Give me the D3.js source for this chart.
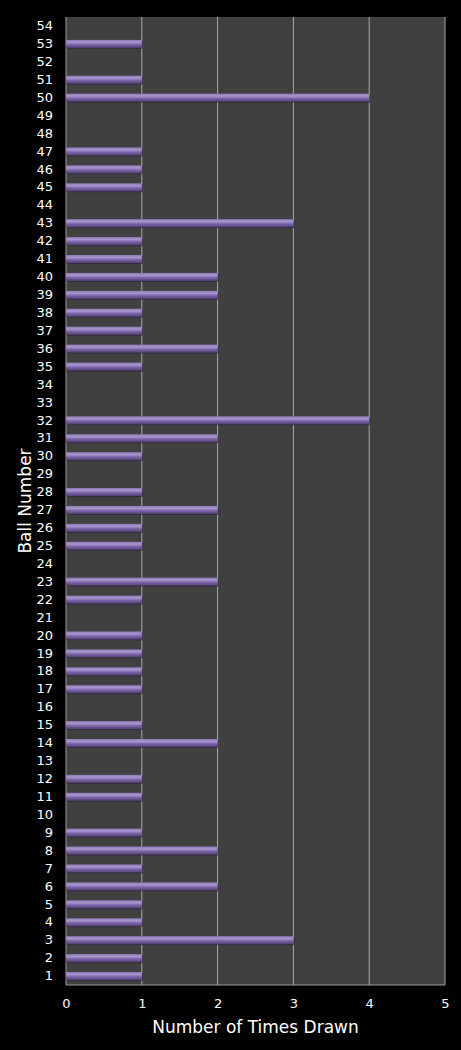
<!DOCTYPE html>
<html><head><meta charset="utf-8">
<script src="https://cdn.jsdelivr.net/npm/d3@7"></script>
<style>html,body{margin:0;padding:0;background:#000;}svg{display:block;}</style>
</head><body>
<script>
const balls = d3.range(1, 55);
const counts = [1,1,3,1,1,2,1,2,1,0, 1,1,0,2,1,0,1,1,1,1, 0,1,2,0,1,1,2,1,0,1, 2,4,0,0,1,2,1,1,2,2, 1,1,3,0,1,1,1,0,0,4, 1,0,1,0];
const xTicks = [0,1,2,3,4,5];
const xTitle = "Number of Times Drawn";
const yTitle = "Ball Number";

const W = 461, H = 1050;
const m = {left:66, right:16, top:17, bottom:65};
const svg = d3.select("body").append("svg").attr("width", W).attr("height", H);
svg.append("rect").attr("width", W).attr("height", H).attr("fill", "#000");

const x = d3.scaleLinear().domain([0,5]).range([m.left, W - m.right]);
const yc = d3.scaleBand().domain(balls).range([H - m.bottom, m.top]);

const defs = svg.append("defs");
const g = defs.append("linearGradient").attr("id","bar").attr("x1",0).attr("x2",0).attr("y1",0).attr("y2",1);
g.append("stop").attr("offset","0%").attr("stop-color","#8e7ab8");
g.append("stop").attr("offset","30%").attr("stop-color","#a896cf");
g.append("stop").attr("offset","60%").attr("stop-color","#7c64a8");
g.append("stop").attr("offset","100%").attr("stop-color","#523f74");

svg.append("rect").attr("x", m.left).attr("y", m.top)
  .attr("width", x(5) - m.left).attr("height", H - m.bottom - m.top).attr("fill", "#404040");

svg.append("g").selectAll("line").data(xTicks.slice(1)).join("line")
  .attr("x1", d => x(d)).attr("x2", d => x(d)).attr("y1", m.top).attr("y2", H - m.bottom)
  .attr("stroke", "#a8a8a8").attr("stroke-width", 1);

svg.append("line").attr("x1", m.left).attr("x2", m.left).attr("y1", m.top).attr("y2", H - m.bottom)
  .attr("stroke", "#9a9a9a");
svg.append("line").attr("x1", m.left).attr("x2", x(5)).attr("y1", H - m.bottom).attr("y2", H - m.bottom)
  .attr("stroke", "#9a9a9a");

const data = balls.map((b, i) => ({b, v: counts[i]})).filter(d => d.v > 0);
const bh = 8;
const bars = svg.append("g").selectAll("g").data(data).join("g");
bars.append("rect")
  .attr("x", m.left + 1).attr("y", d => yc(d.b) + yc.bandwidth()/2 - bh/2 + 1)
  .attr("width", d => x(d.v) - m.left).attr("height", bh)
  .attr("fill", "#2a2238").attr("opacity", 0.6);
bars.append("rect")
  .attr("x", m.left).attr("y", d => yc(d.b) + yc.bandwidth()/2 - bh/2)
  .attr("width", d => x(d.v) - m.left).attr("height", bh)
  .attr("fill", "url(#bar)");

const yAxis = d3.axisLeft(yc).tickSize(0).tickPadding(13);
const ya = svg.append("g").attr("transform", `translate(${m.left},0)`).call(yAxis);
ya.select(".domain").remove();
ya.selectAll("text").attr("fill", "#fff").attr("font-family", "DejaVu Sans, sans-serif").attr("font-size", 13);

const xAxis = d3.axisBottom(x).tickValues(xTicks).tickSize(0).tickPadding(14).tickFormat(d3.format("d"));
const xa = svg.append("g").attr("transform", `translate(0,${H - m.bottom})`).call(xAxis);
xa.select(".domain").remove();
xa.selectAll("text").attr("fill", "#fff").attr("font-family", "DejaVu Sans, sans-serif").attr("font-size", 13);

svg.append("text").attr("x", x(2.5)).attr("y", 1033).attr("text-anchor", "middle")
  .attr("fill", "#fff").attr("font-family", "DejaVu Sans, sans-serif").attr("font-size", 17).text(xTitle);
svg.append("text").attr("transform", `translate(31,${(m.top + H - m.bottom)/2}) rotate(-90)`)
  .attr("text-anchor", "middle").attr("fill", "#fff")
  .attr("font-family", "DejaVu Sans, sans-serif").attr("font-size", 17).text(yTitle);
</script>
</body></html>
